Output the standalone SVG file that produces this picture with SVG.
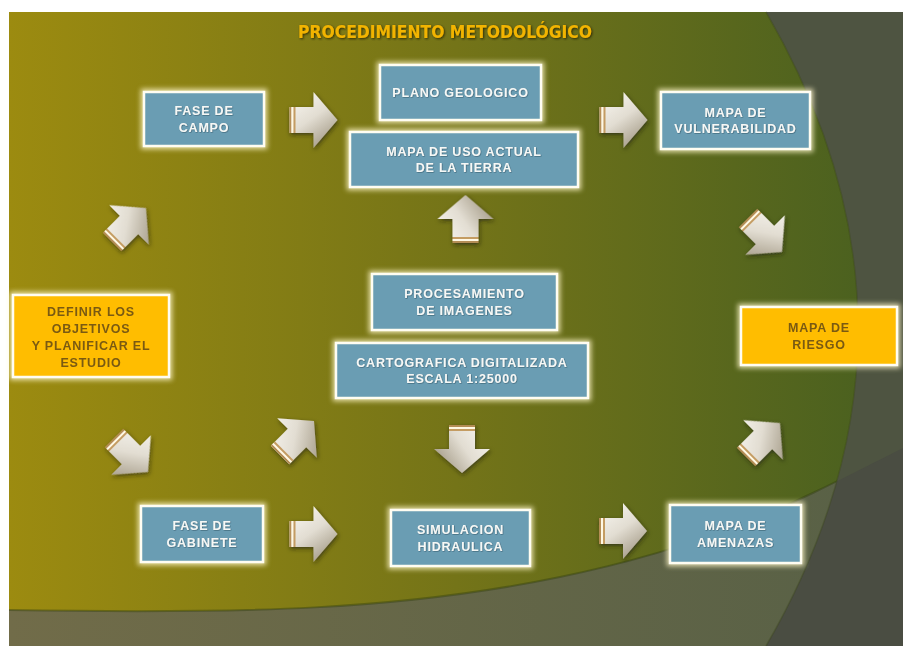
<svg xmlns="http://www.w3.org/2000/svg" xmlns:xlink="http://www.w3.org/1999/xlink" width="903" height="646" viewBox="0 0 903 646">
<style>
.bx{fill:#6a9db3;stroke:#fffdf2;stroke-width:2.5}
.yb{fill:#ffbd00;stroke:#fffdf2;stroke-width:2.5}
.bt{font-family:"Liberation Sans",Arial,sans-serif;font-weight:bold;font-size:12.5px;letter-spacing:0.8px;fill:#f6f8f6;text-anchor:middle}
.yt{font-family:"Liberation Sans",Arial,sans-serif;font-weight:bold;font-size:12.5px;letter-spacing:0.8px;fill:#7a5a12;text-anchor:middle}
.ttl{font-family:"Liberation Sans Narrow","DejaVu Sans Condensed","Liberation Sans",sans-serif;font-weight:bold;font-size:17px;fill:#f2b400}
</style>
<defs>
<linearGradient id="gBlob" x1="0" y1="0" x2="1" y2="0">
<stop offset="0" stop-color="#9c8b10"/>
<stop offset="0.5" stop-color="#747418"/>
<stop offset="1" stop-color="#475f20"/>
</linearGradient>
<linearGradient id="gLow" x1="0" y1="0" x2="1" y2="0">
<stop offset="0" stop-color="#716c49"/>
<stop offset="1" stop-color="#596146"/>
</linearGradient>
<linearGradient id="gArr" x1="0" y1="0" x2="0.6" y2="1">
<stop offset="0" stop-color="#fbf9f4"/>
<stop offset="0.55" stop-color="#e2ddd2"/>
<stop offset="1" stop-color="#a89f8c"/>
</linearGradient>
<clipPath id="leftC"><path d="M9 12 L766 12 Q950 329 766 646 L9 646 Z"/></clipPath>
<filter id="glow" x="-20%" y="-20%" width="140%" height="140%">
<feMorphology in="SourceAlpha" operator="dilate" radius="1.5" result="d"/>
<feGaussianBlur in="d" stdDeviation="2.5" result="b"/>
<feFlood flood-color="#fff6c8" flood-opacity="0.8"/>
<feComposite in2="b" operator="in" result="g"/>
<feMerge><feMergeNode in="g"/><feMergeNode in="SourceGraphic"/></feMerge>
</filter>
<filter id="sh" x="-30%" y="-30%" width="160%" height="160%">
<feDropShadow dx="1" dy="2" stdDeviation="2" flood-color="#1e1e10" flood-opacity="0.6"/>
</filter>
<filter id="ts" x="-5%" y="-20%" width="110%" height="140%">
<feDropShadow dx="0.6" dy="0.6" stdDeviation="0.5" flood-color="#23394a" flood-opacity="0.6"/>
</filter>
<filter id="tsh" x="-5%" y="-30%" width="110%" height="160%">
<feDropShadow dx="1" dy="1" stdDeviation="1" flood-color="#2a2000" flood-opacity="0.9"/>
</filter>
<g id="arr">
<polygon points="-24,-13 0,-13 0,-28 24,0 0,28 0,13 -24,13" fill="url(#gArr)"/>
<rect x="-24" y="-13" width="2" height="26" fill="#b48d55"/>
<rect x="-22" y="-13" width="2" height="26" fill="#fff8e4"/>
<rect x="-20" y="-13" width="2" height="26" fill="#c49c62"/>
</g>
</defs>

<g id="background">
<rect x="0" y="0" width="903" height="646" fill="#ffffff"/>
<rect x="9" y="12" width="894" height="634" fill="#4a4d42"/>
<path d="M9 12 H903 V448 C800 500 720 544 560 577 C400 610 250 614 9 610 Z" fill="#4e5441"/>
<path d="M9 12 L766 12 Q950 329 766 646 L9 646 Z" fill="url(#gLow)"/>
<path d="M9 12 H903 V448 C800 500 720 544 560 577 C400 610 250 614 9 610 Z" fill="url(#gBlob)" clip-path="url(#leftC)"/>
<path d="M903 448 C800 500 720 544 560 577 C400 610 250 614 9 610" fill="none" stroke="#34400f" stroke-opacity="0.45" stroke-width="2" clip-path="url(#leftC)"/>
<path d="M766 12 Q950 329 766 646" fill="none" stroke="#3a4418" stroke-opacity="0.35" stroke-width="1.5"/>
</g>

<text class="ttl" x="298" y="38" textLength="294" lengthAdjust="spacingAndGlyphs" filter="url(#tsh)">PROCEDIMIENTO METODOLÓGICO</text>

<g id="connectors" filter="url(#sh)">
<use xlink:href="#arr" transform="translate(313.5,120)"/>
<use xlink:href="#arr" transform="translate(623.5,120)"/>
<use xlink:href="#arr" transform="translate(765,235) rotate(45)"/>
<use xlink:href="#arr" transform="translate(129,225) rotate(-45)"/>
<use xlink:href="#arr" transform="translate(465.5,219) rotate(-90)"/>
<use xlink:href="#arr" transform="translate(131,455) rotate(45)"/>
<use xlink:href="#arr" transform="translate(297,438) rotate(-45)"/>
<use xlink:href="#arr" transform="translate(462,449) rotate(90)"/>
<use xlink:href="#arr" transform="translate(313.5,534)"/>
<use xlink:href="#arr" transform="translate(623,531)"/>
<use xlink:href="#arr" transform="translate(763,440) rotate(-45)"/>
</g>

<g id="fase-campo">
<rect class="bx" x="144" y="92" width="120" height="54" filter="url(#glow)"/>
<g filter="url(#ts)"><text class="bt" x="204" y="115">FASE DE</text><text class="bt" x="204" y="131.5">CAMPO</text></g>
</g>
<g id="plano-geologico">
<rect class="bx" x="380" y="65" width="161" height="55" filter="url(#glow)"/>
<g filter="url(#ts)"><text class="bt" x="460.5" y="96.5">PLANO GEOLOGICO</text></g>
</g>
<g id="mapa-uso">
<rect class="bx" x="350" y="132" width="228" height="55" filter="url(#glow)"/>
<g filter="url(#ts)"><text class="bt" x="464" y="155.5">MAPA DE USO ACTUAL</text><text class="bt" x="464" y="172">DE LA TIERRA</text></g>
</g>
<g id="mapa-vulnerabilidad">
<rect class="bx" x="661" y="92" width="149" height="57" filter="url(#glow)"/>
<g filter="url(#ts)"><text class="bt" x="735.5" y="116.5">MAPA DE</text><text class="bt" x="735.5" y="133">VULNERABILIDAD</text></g>
</g>
<g id="definir-objetivos">
<rect class="yb" x="13" y="295" width="156" height="82" filter="url(#glow)"/>
<text class="yt" x="91" y="316">DEFINIR LOS</text>
<text class="yt" x="91" y="333">OBJETIVOS</text>
<text class="yt" x="91" y="350">Y PLANIFICAR EL</text>
<text class="yt" x="91" y="367">ESTUDIO</text>
</g>
<g id="mapa-riesgo">
<rect class="yb" x="741" y="307" width="156" height="58" filter="url(#glow)"/>
<text class="yt" x="819" y="332">MAPA DE</text>
<text class="yt" x="819" y="348.5">RIESGO</text>
</g>
<g id="procesamiento">
<rect class="bx" x="372" y="274" width="185" height="56" filter="url(#glow)"/>
<g filter="url(#ts)"><text class="bt" x="464.5" y="298">PROCESAMIENTO</text><text class="bt" x="464.5" y="314.5">DE IMAGENES</text></g>
</g>
<g id="cartografica">
<rect class="bx" x="336" y="343" width="252" height="55" filter="url(#glow)"/>
<g filter="url(#ts)"><text class="bt" x="462" y="366.5">CARTOGRAFICA  DIGITALIZADA</text><text class="bt" x="462" y="383">ESCALA 1:25000</text></g>
</g>
<g id="fase-gabinete">
<rect class="bx" x="141" y="506" width="122" height="56" filter="url(#glow)"/>
<g filter="url(#ts)"><text class="bt" x="202" y="530">FASE DE</text><text class="bt" x="202" y="546.5">GABINETE</text></g>
</g>
<g id="simulacion">
<rect class="bx" x="391" y="510" width="139" height="56" filter="url(#glow)"/>
<g filter="url(#ts)"><text class="bt" x="460.5" y="534">SIMULACION</text><text class="bt" x="460.5" y="550.5">HIDRAULICA</text></g>
</g>
<g id="mapa-amenazas">
<rect class="bx" x="670" y="505" width="131" height="58" filter="url(#glow)"/>
<g filter="url(#ts)"><text class="bt" x="735.5" y="530">MAPA DE</text><text class="bt" x="735.5" y="546.5">AMENAZAS</text></g>
</g>
</svg>
